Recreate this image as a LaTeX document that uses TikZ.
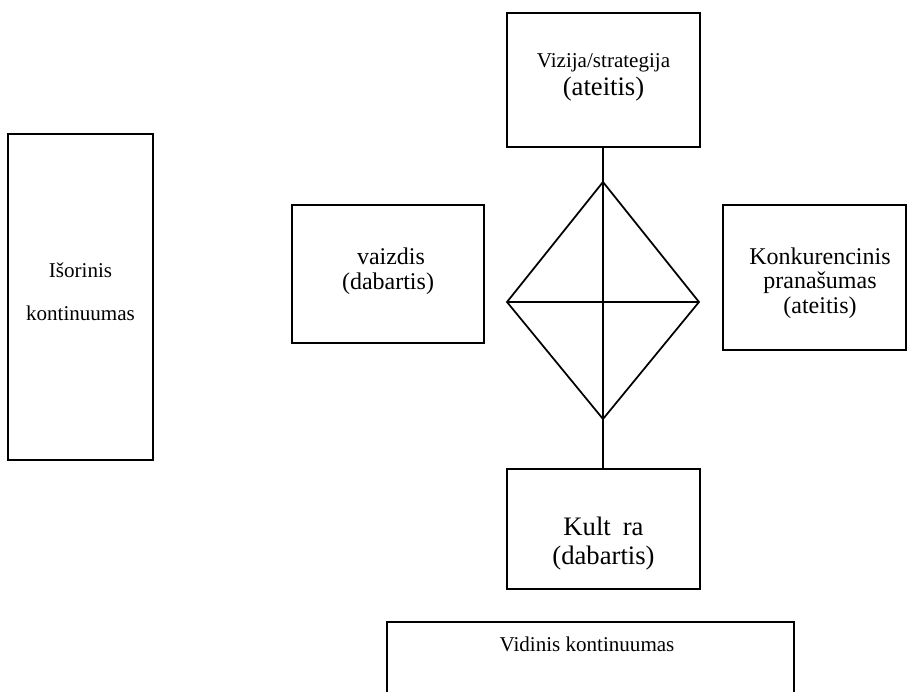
\documentclass[tikz,border=0pt]{standalone}
\usepackage{fontspec}
\setmainfont{Liberation Serif}
\begin{document}
\begin{tikzpicture}[x=0.75pt,y=-0.75pt,
  box/.style={draw, line width=1.3pt, inner sep=0pt},
  edge/.style={line width=1.3pt},
  txt/.style={anchor=base, inner sep=0pt},
  small/.style={font=\fontsize{15.8}{18}\selectfont},
  mid/.style={font=\fontsize{18}{20}\selectfont},
  big/.style={font=\fontsize{20}{22}\selectfont}]
\useasboundingbox (0,0) rectangle (907,692);

% frames
\node[box, minimum width=144.75pt, minimum height=100.5pt] (vision) at (603.5,80) {};
\node[box, minimum width=108.75pt, minimum height=244.5pt] (outer) at (80.5,297) {};
\node[box, minimum width=144pt, minimum height=103.5pt] (image) at (388,274) {};
\node[box, minimum width=137.25pt, minimum height=108.75pt] (edgebox) at (814.5,277.5) {};
\node[box, minimum width=144.75pt, minimum height=90pt] (culture) at (603.5,529) {};
\node[box, anchor=north, minimum width=305.25pt, minimum height=90pt] (inner) at (590.5,621) {};

% rhombus in the middle
\coordinate (dt) at (603,182);
\coordinate (dl) at (507,302);
\coordinate (dr) at (699,302);
\coordinate (db) at (603,419);
\draw[edge, line join=miter] (dt) -- (dr) -- (db) -- (dl) -- cycle;
\draw[edge] (dl) -- (dr);
\draw[edge] (vision.south -| dt) -- (culture.north -| dt);

% labels
\node[txt, small] (visionA) at (603.5,68) {Vizija/strategija};
\node[txt, big] (visionB) at (603.5,96) {(ateitis)};

\node[txt, small] (outerA) at (80.5,277) {Išorinis};
\node[txt, small] (outerB) at (80.5,320) {kontinuumas};

\node[txt, mid] (imageA) at (391,264) {vaizdis};
\node[txt, mid] (imageB) at (388,289) {(dabartis)};

\node[txt, mid] (edgeA) at (820,264) {Konkurencinis};
\node[txt, mid] (edgeB) at (820,288) {pranašumas};
\node[txt, mid] (edgeC) at (820,313) {(ateitis)};

\node[txt, big] (cultureA) at (603.5,535) {Kult\hspace{0.45em}ra};
\node[txt, big] (cultureB) at (603.5,564) {(dabartis)};

\node[txt, small] (innerA) at (587,651) {Vidinis kontinuumas};
\end{tikzpicture}
\end{document}
